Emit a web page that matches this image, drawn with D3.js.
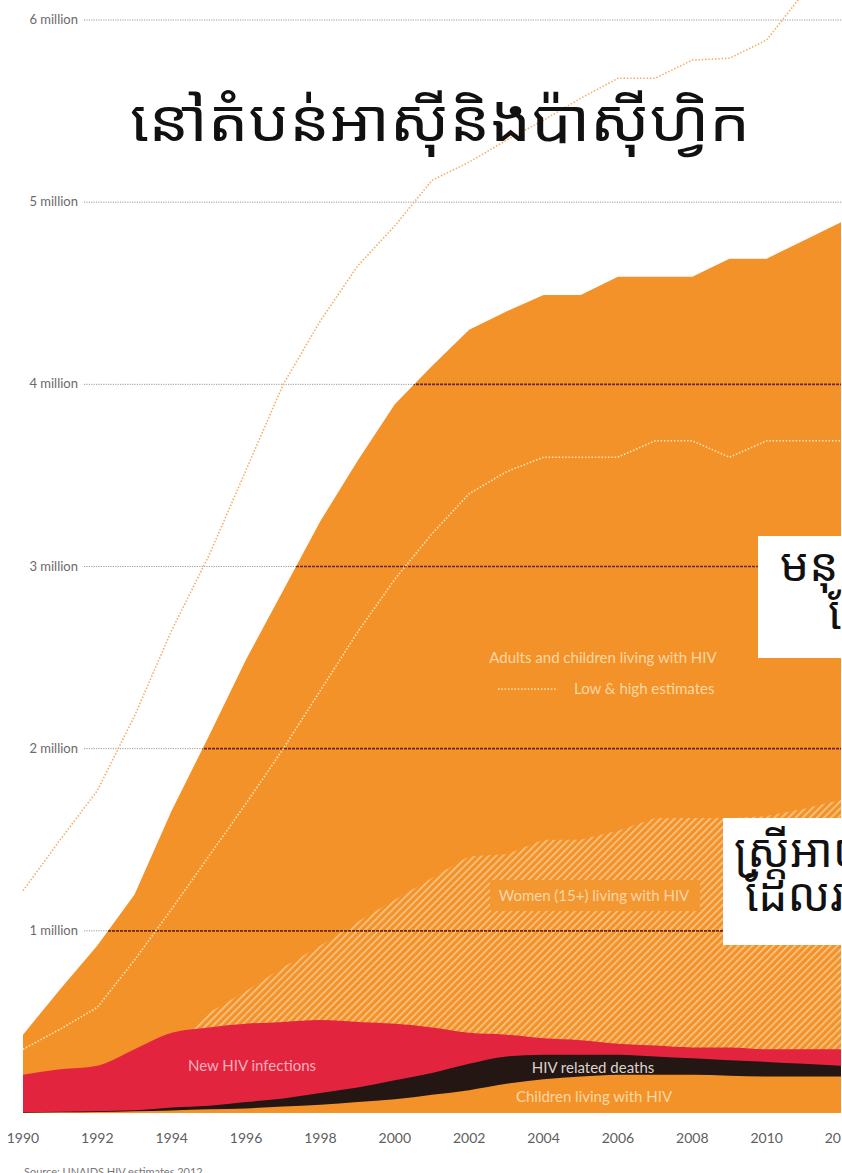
<!DOCTYPE html>
<html>
<head>
<meta charset="utf-8">
<script src="https://cdn.jsdelivr.net/npm/d3@7"></script>
<style>
  html, body { margin: 0; padding: 0; background: #fff; }
  svg { display: block; }
  .lat { font-family: Lato, "Open Sans", "DejaVu Sans", sans-serif; }
  .khm { font-family: "Noto Sans Khmer", "Noto Serif Khmer", "Khmer OS", "Khmer OS System", Hanuman, "DejaVu Sans", sans-serif; }
</style>
</head>
<body>
<svg id="chart" width="842" height="1173"></svg>
<script>
// ---------- DATA ----------
const years = [1990,1991,1992,1993,1994,1995,1996,1997,1998,1999,2000,2001,2002,2003,2004,2005,2006,2007,2008,2009,2010,2011,2012];
// values in millions
const adultsLiving = [0.43,0.68,0.92,1.2,1.66,2.07,2.49,2.87,3.25,3.58,3.89,4.1,4.3,4.4,4.49,4.49,4.59,4.59,4.59,4.69,4.69,4.79,4.89];
const lowEstimate  = [0.35,0.46,0.58,0.84,1.12,1.41,1.7,2.0,2.32,2.64,2.93,3.18,3.4,3.52,3.6,3.6,3.6,3.69,3.69,3.6,3.69,3.69,3.69];
const highEstimate = [1.22,1.5,1.77,2.18,2.65,3.06,3.53,4.0,4.35,4.65,4.87,5.12,5.22,5.34,5.45,5.57,5.68,5.68,5.78,5.79,5.89,6.15,6.35];
const womenLiving  = [0.1,0.12,0.15,0.2,0.35,0.55,0.67,0.8,0.92,1.05,1.17,1.29,1.41,1.42,1.5,1.5,1.55,1.62,1.62,1.62,1.63,1.67,1.72];
const newInfections = [0.21,0.24,0.26,0.35,0.44,0.47,0.49,0.5,0.51,0.5,0.49,0.47,0.44,0.43,0.41,0.4,0.38,0.37,0.36,0.36,0.35,0.35,0.35];
const relatedDeaths = [0.005,0.007,0.01,0.015,0.03,0.04,0.06,0.08,0.11,0.14,0.18,0.22,0.27,0.31,0.32,0.32,0.32,0.31,0.3,0.29,0.28,0.27,0.26];
const childrenLiving = [0.002,0.004,0.006,0.01,0.014,0.02,0.025,0.035,0.045,0.06,0.075,0.1,0.125,0.16,0.185,0.2,0.21,0.21,0.21,0.205,0.2,0.2,0.2];

const gridValues = [1,2,3,4,5,6];
const gridLabels = ["1 million","2 million","3 million","4 million","5 million","6 million"];
const tickYears = [1990,1992,1994,1996,1998,2000,2002,2004,2006,2008,2010,2012];

const titleText = "នៅតំបន់អាស៊ីនិងប៉ាស៊ីហ្វិក";
const box1Lines = ["មនុស្សពេញវ័យ និងកុមារ", "ដែលរស់នៅជាមួយមេរោគអេដស៍"];
const box2Lines = ["ស្ត្រីអាយុ 15 ឆ្នាំឡើងទៅ", "ដែលរស់នៅជាមួយមេរោគអេដស៍"];
const sourceText = "Source: UNAIDS HIV estimates 2012";

// ---------- SETUP ----------
const svg = d3.select("#chart");
const x = d3.scaleLinear().domain([1990, 2012]).range([23, 841]);
const y = d3.scaleLinear().domain([0, 6]).range([1113, 20]);

const C = {
  orange: "#F39229",
  red: "#E3243F",
  black: "#241612",
  hatch: "#F9C88C"
};

const defs = svg.append("defs");
const pat = defs.append("pattern")
  .attr("id", "hatch").attr("patternUnits", "userSpaceOnUse")
  .attr("width", 5).attr("height", 5)
  .attr("patternTransform", "rotate(45)");
pat.append("rect").attr("width", 5).attr("height", 5).attr("fill", C.orange);
pat.append("rect").attr("x", 0).attr("width", 1.6).attr("height", 5).attr("fill", C.hatch);

const areaGen = (vals, curve) => d3.area()
  .x((d, i) => x(years[i])).y0(y(0)).y1(d => y(d)).curve(curve)(vals);
const lineGen = (vals) => d3.line()
  .x((d, i) => x(years[i])).y(d => y(d)).curve(d3.curveLinear)(vals);

defs.append("clipPath").attr("id", "adultClip")
  .append("path").attr("d", areaGen(adultsLiving, d3.curveLinear));

// background grid (gray dotted)
const gridG = svg.append("g");
gridValues.forEach((v, i) => {
  gridG.append("line")
    .attr("x1", 84).attr("x2", 842).attr("y1", y(v)).attr("y2", y(v))
    .attr("stroke", "#9a9a9a").attr("stroke-width", 1)
    .attr("stroke-dasharray", "1.2,1.2");
  gridG.append("text").attr("class", "lat")
    .attr("x", 78).attr("y", y(v) + 4)
    .attr("text-anchor", "end").attr("font-size", 13)
    .attr("fill", "#6a6a6a").text(gridLabels[i]);
});

// high estimate (in white region)
svg.append("path").attr("d", lineGen(highEstimate))
  .attr("fill", "none").attr("stroke", "#F4AE68").attr("stroke-width", 1.6)
  .attr("stroke-dasharray", "1.5,1.8");

// areas
svg.append("path").attr("d", areaGen(adultsLiving, d3.curveLinear)).attr("fill", C.orange);
svg.append("path").attr("d", areaGen(womenLiving, d3.curveLinear)).attr("fill", "url(#hatch)");

// dark grid over orange
const darkG = svg.append("g").attr("clip-path", "url(#adultClip)");
gridValues.forEach(v => {
  darkG.append("line")
    .attr("x1", 84).attr("x2", 842).attr("y1", y(v)).attr("y2", y(v))
    .attr("stroke", "#6a2a08").attr("stroke-width", 1.6)
    .attr("stroke-dasharray", "3,1");
});

// low estimate
svg.append("path").attr("d", lineGen(lowEstimate))
  .attr("fill", "none").attr("stroke", "#FDE3B8").attr("stroke-width", 1.6)
  .attr("stroke-dasharray", "1.5,1.8");

svg.append("path").attr("d", areaGen(newInfections, d3.curveMonotoneX)).attr("fill", C.red);
svg.append("path").attr("d", areaGen(relatedDeaths, d3.curveMonotoneX)).attr("fill", C.black);
svg.append("path").attr("d", areaGen(childrenLiving, d3.curveMonotoneX)).attr("fill", C.orange);

// in-chart labels
const lab = (t, cx, cy, fill, size) => svg.append("text").attr("class", "lat")
  .attr("x", cx).attr("y", cy).attr("text-anchor", "middle")
  .attr("font-size", size || 15).attr("fill", fill).text(t);

lab("Adults and children living with HIV", 603, 663, "#FBD7A4", 15);
svg.append("line").attr("x1", 498).attr("x2", 556).attr("y1", 689).attr("y2", 689)
  .attr("stroke", "#FDE3B8").attr("stroke-width", 1.6).attr("stroke-dasharray", "1.5,1.8");
svg.append("text").attr("class", "lat").attr("x", 574).attr("y", 694)
  .attr("font-size", 15).attr("fill", "#FBD7A4").text("Low & high estimates");

svg.append("rect").attr("x", 490).attr("y", 880).attr("width", 210).attr("height", 31)
  .attr("rx", 3).attr("fill", "#F39731");
lab("Women (15+) living with HIV", 594, 901, "#FCD6A8", 15);

lab("New HIV infections", 252, 1071, "#F8B0BC", 15);
lab("HIV related deaths", 593, 1073, "#D9D2CE", 15);
lab("Children living with HIV", 594, 1102, "#FCD8A4", 15);

// x axis labels
tickYears.forEach(yr => {
  svg.append("text").attr("class", "lat")
    .attr("x", x(yr)).attr("y", 1143).attr("text-anchor", "middle")
    .attr("font-size", 14).attr("fill", "#5e5e5e").text(yr);
});

svg.append("text").attr("class", "lat").attr("x", 24).attr("y", 1176)
  .attr("font-size", 11).attr("fill", "#777").text(sourceText);

// title
svg.append("text").attr("class", "khm")
  .attr("x", 130).attr("y", 141)
  .attr("font-size", 58).attr("fill", "#111")
  .attr("textLength", 620).attr("lengthAdjust", "spacingAndGlyphs")
  .text(titleText);

// white annotation boxes (clipped at right)
svg.append("rect").attr("x", 758).attr("y", 536).attr("width", 120).attr("height", 122).attr("fill", "#fff");
svg.append("text").attr("class", "khm").attr("x", 780).attr("y", 581)
  .attr("font-size", 46).attr("fill", "#111").text(box1Lines[0]);
svg.append("text").attr("class", "khm").attr("x", 828).attr("y", 629)
  .attr("font-size", 46).attr("fill", "#111").text(box1Lines[1]);

svg.append("rect").attr("x", 723).attr("y", 818).attr("width", 160).attr("height", 127).attr("fill", "#fff");
svg.append("text").attr("class", "khm").attr("x", 734).attr("y", 867)
  .attr("font-size", 46).attr("fill", "#111").text(box2Lines[0]);
svg.append("text").attr("class", "khm").attr("x", 745).attr("y", 911)
  .attr("font-size", 46).attr("fill", "#111").text(box2Lines[1]);
</script>
</body>
</html>
